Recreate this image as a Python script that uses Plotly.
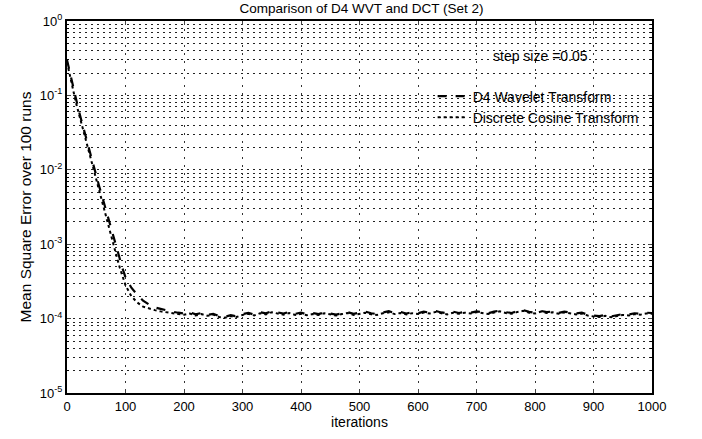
import plotly.graph_objects as go

# ---- data ----
iters_d4 = [0, 5, 10, 15, 20, 25, 30, 35, 40, 45, 50, 55, 60, 65, 70, 75, 80, 85, 90, 95,
            100, 110, 120, 130, 140, 150, 160, 170, 180, 190,
            200, 210, 220, 230, 240, 250, 260, 270, 280, 290,
            300, 310, 320, 330, 340, 350, 360, 370, 380, 390,
            400, 410, 420, 430, 440, 450, 460, 470, 480, 490,
            500, 510, 520, 530, 540, 550, 560, 570, 580, 590,
            600, 610, 620, 630, 640, 650, 660, 670, 680, 690,
            700, 710, 720, 730, 740, 750, 760, 770, 780, 790,
            800, 810, 820, 830, 840, 850, 860, 870, 880, 890,
            900, 910, 920, 930, 940, 950, 960, 970, 980, 990, 1000]

d4_mse = [0.30, 0.20, 0.13, 0.089, 0.063, 0.045, 0.032, 0.022, 0.016, 0.011,
          0.0083, 0.0060, 0.0044, 0.0032, 0.0023, 0.00166, 0.00117, 8.7e-4, 6.3e-4, 4.7e-4,
          3.6e-4, 2.6e-4, 2.1e-4, 1.74e-4, 1.55e-4, 1.41e-4, 1.35e-4, 1.28e-4, 1.24e-4, 1.20e-4,
          1.17e-4, 1.21e-4, 1.14e-4, 1.19e-4, 1.12e-4, 1.16e-4, 1.08e-4, 1.06e-4, 1.11e-4, 1.07e-4,
          1.15e-4, 1.19e-4, 1.13e-4, 1.22e-4, 1.18e-4, 1.26e-4, 1.21e-4, 1.17e-4, 1.23e-4, 1.16e-4,
          1.20e-4, 1.14e-4, 1.19e-4, 1.15e-4, 1.21e-4, 1.17e-4, 1.13e-4, 1.18e-4, 1.22e-4, 1.16e-4,
          1.19e-4, 1.24e-4, 1.18e-4, 1.15e-4, 1.21e-4, 1.26e-4, 1.19e-4, 1.23e-4, 1.17e-4, 1.22e-4,
          1.18e-4, 1.24e-4, 1.20e-4, 1.27e-4, 1.21e-4, 1.18e-4, 1.24e-4, 1.19e-4, 1.23e-4, 1.20e-4,
          1.25e-4, 1.21e-4, 1.18e-4, 1.24e-4, 1.28e-4, 1.22e-4, 1.19e-4, 1.26e-4, 1.30e-4, 1.23e-4,
          1.20e-4, 1.27e-4, 1.22e-4, 1.25e-4, 1.19e-4, 1.24e-4, 1.21e-4, 1.17e-4, 1.20e-4, 1.13e-4,
          1.10e-4, 1.08e-4, 1.12e-4, 1.07e-4, 1.11e-4, 1.15e-4, 1.13e-4, 1.18e-4, 1.16e-4, 1.20e-4, 1.19e-4]

iters_dct = [0, 5, 10, 15, 20, 25, 30, 35, 40, 45, 50, 55, 60, 65, 70, 75, 80, 85, 90, 95,
             100, 110, 120, 130, 140, 150, 160, 170, 180, 190,
             200, 210, 220, 230, 240, 250, 260, 270, 280, 290,
             300, 310, 320, 330, 340, 350, 360, 370, 380, 390,
             400, 410, 420, 430, 440, 450, 460, 470, 480, 490,
             500, 510, 520, 530, 540, 550, 560, 570, 580, 590,
             600, 610, 620, 630, 640, 650, 660, 670, 680, 690,
             700, 710, 720, 730, 740, 750, 760, 770, 780, 790,
             800, 810, 820, 830, 840, 850, 860, 870, 880, 890,
             900, 910, 920, 930, 940, 950, 960, 970, 980, 990, 1000]

dct_mse = [0.28, 0.18, 0.12, 0.082, 0.058, 0.041, 0.029, 0.020, 0.0145, 0.0102,
           0.0074, 0.0053, 0.0038, 0.0027, 0.0019, 0.00135, 9.5e-4, 6.8e-4, 4.9e-4, 3.6e-4,
           2.8e-4, 2.0e-4, 1.65e-4, 1.45e-4, 1.36e-4, 1.30e-4, 1.25e-4, 1.21e-4, 1.18e-4, 1.15e-4,
           1.13e-4, 1.17e-4, 1.10e-4, 1.15e-4, 1.09e-4, 1.13e-4, 1.05e-4, 1.03e-4, 1.08e-4, 1.05e-4,
           1.12e-4, 1.16e-4, 1.10e-4, 1.18e-4, 1.14e-4, 1.22e-4, 1.17e-4, 1.13e-4, 1.19e-4, 1.12e-4,
           1.16e-4, 1.11e-4, 1.15e-4, 1.12e-4, 1.18e-4, 1.13e-4, 1.10e-4, 1.15e-4, 1.19e-4, 1.12e-4,
           1.16e-4, 1.20e-4, 1.14e-4, 1.12e-4, 1.18e-4, 1.22e-4, 1.15e-4, 1.19e-4, 1.14e-4, 1.18e-4,
           1.15e-4, 1.21e-4, 1.17e-4, 1.23e-4, 1.18e-4, 1.14e-4, 1.20e-4, 1.16e-4, 1.20e-4, 1.17e-4,
           1.22e-4, 1.18e-4, 1.15e-4, 1.21e-4, 1.25e-4, 1.19e-4, 1.16e-4, 1.23e-4, 1.27e-4, 1.20e-4,
           1.17e-4, 1.24e-4, 1.19e-4, 1.22e-4, 1.16e-4, 1.21e-4, 1.18e-4, 1.14e-4, 1.17e-4, 1.10e-4,
           1.07e-4, 1.05e-4, 1.09e-4, 1.04e-4, 1.08e-4, 1.12e-4, 1.10e-4, 1.15e-4, 1.13e-4, 1.17e-4, 1.16e-4]

x_ticks = [0, 100, 200, 300, 400, 500, 600, 700, 800, 900, 1000]
y_decades = [1e0, 1e-1, 1e-2, 1e-3, 1e-4, 1e-5]
y_decade_labels = ["10<sup>0</sup>", "10<sup>-1</sup>", "10<sup>-2</sup>",
                   "10<sup>-3</sup>", "10<sup>-4</sup>", "10<sup>-5</sup>"]

FONT = "Liberation Sans, Arial, sans-serif"

fig = go.Figure()
fig.add_trace(go.Scatter(x=iters_d4, y=d4_mse, mode="lines", name="D4 Wavelet Transform",
                         line=dict(color="black", width=2.2, dash="dash")))
fig.add_trace(go.Scatter(x=iters_dct, y=dct_mse, mode="lines", name="Discrete Cosine Transform",
                         line=dict(color="black", width=2.0, dash="dot")))

fig.update_layout(
    width=702, height=439,
    margin=dict(l=67, r=50, t=15, b=45),
    paper_bgcolor="white", plot_bgcolor="white",
    font=dict(family=FONT, size=13, color="black"),
    title=dict(text="Comparison of D4 WVT and DCT (Set 2)", x=0.515, xanchor="center",
               y=0.992, yanchor="top", font=dict(size=13.5)),
    showlegend=True,
    legend=dict(x=0.625, y=0.84, xanchor="left", yanchor="top",
                bgcolor="rgba(0,0,0,0)", font=dict(size=14), tracegroupgap=0,
                itemwidth=30),
    xaxis=dict(range=[0, 1000], tickvals=x_ticks, ticks="inside", ticklen=4,
               showline=True, linecolor="black", linewidth=2, mirror="ticks",
               showgrid=True, gridcolor="#333", griddash="2px,6px", gridwidth=1,
               zeroline=False, title=dict(text="iterations", standoff=4, font=dict(size=14)),
               tickfont=dict(size=13)),
    yaxis=dict(type="log", range=[-5, 0], tickvals=y_decades, ticktext=y_decade_labels,
               ticks="inside", ticklen=4, showline=True, linecolor="black", linewidth=2,
               mirror="ticks", showgrid=True, gridcolor="#222", griddash="2px,4px", gridwidth=1.3,
               minor=dict(dtick="D1", showgrid=True, gridcolor="#222", griddash="2px,4px",
                          gridwidth=1.3, ticks="inside", ticklen=2, tickcolor="black"),
               zeroline=False,
               title=dict(text="Mean Square Error over 100 runs", standoff=4, font=dict(size=15.5)),
               tickfont=dict(size=13)),
)

fig.add_annotation(text="step size =0.05", x=0.81, y=0.905, xref="paper", yref="paper",
                   xanchor="center", yanchor="middle",
                   showarrow=False, font=dict(size=14), bgcolor="rgba(0,0,0,0)")

fig.write_html("out.html")
